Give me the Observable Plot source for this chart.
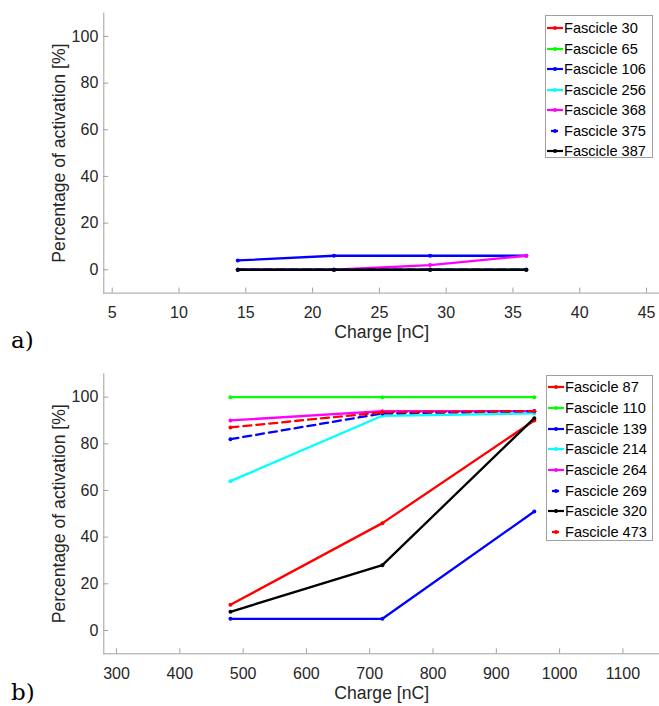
<!DOCTYPE html>
<html><head><meta charset="utf-8">
<script src="https://cdn.jsdelivr.net/npm/d3@7"></script>
<script src="https://cdn.jsdelivr.net/npm/@observablehq/plot@0.6"></script>
<style>
body{margin:0;background:#fff;}
#fig{position:relative;width:659px;height:706px;overflow:hidden;background:#fff;font-family:"Liberation Sans",Arial,Helvetica,sans-serif;}
.panel{position:absolute;left:0;}
.legend{position:absolute;border:1px solid #a0a0a0;background:#fff;font-size:14.6px;color:#000;box-sizing:border-box;}
.legend .row{display:flex;align-items:center;white-space:nowrap;}
.legend svg{flex:none;}
.tag{position:absolute;font-family:"DejaVu Serif","Liberation Serif",serif;font-size:23px;line-height:23px;color:#000;}
</style></head><body>
<div id="fig">
  <div id="pa" class="panel" style="top:0"></div>
  <div id="pb" class="panel" style="top:356px"></div>
  <div id="la" class="legend" style="left:545px;top:15px;width:108px;height:143px;padding-top:2px"></div>
  <div id="lb" class="legend" style="left:546px;top:375px;width:107px;height:166px;padding-top:1px"></div>
  <div class="tag" style="left:11px;top:329px">a)</div>
  <div class="tag" style="left:11px;top:681px">b)</div>
</div>
<script>
// ---- Panel a data ----
const chargeA = [14.4, 21.6, 28.8, 36];
const namesA = ["Fascicle 30", "Fascicle 65", "Fascicle 106", "Fascicle 256", "Fascicle 368", "Fascicle 375", "Fascicle 387"];
const fascicle30 = [0, 0, 0, 0];
const fascicle65 = [0, 0, 0, 0];
const fascicle106 = [4, 6, 6, 6];
const fascicle256 = [0, 0, 0, 0];
const fascicle368 = [0, 0, 2, 6];
const fascicle375 = [0, 0, 0, 0];
const fascicle387 = [0, 0, 0, 0];
const valuesA = [fascicle30, fascicle65, fascicle106, fascicle256, fascicle368, fascicle375, fascicle387];
const xTicksA = [5, 10, 15, 20, 25, 30, 35, 40, 45];
const xDomainA = [4.37, 45.97];

// ---- Panel b data ----
const chargeB = [480, 720, 960];
const namesB = ["Fascicle 87", "Fascicle 110", "Fascicle 139", "Fascicle 214", "Fascicle 264", "Fascicle 269", "Fascicle 320", "Fascicle 473"];
const fascicle87 = [11, 46, 90];
const fascicle110 = [100, 100, 100];
const fascicle139 = [5, 5, 51];
const fascicle214 = [64, 92, 93];
const fascicle264 = [90, 94, 94];
const fascicle269 = [82, 93, 94];
const fascicle320 = [8, 28, 91];
const fascicle473 = [87, 93.5, 94];
const valuesB = [fascicle87, fascicle110, fascicle139, fascicle214, fascicle264, fascicle269, fascicle320, fascicle473];
const xTicksB = [300, 400, 500, 600, 700, 800, 900, 1000, 1100];
const xDomainB = [279.9, 1157.8];

const yTicks = [0, 20, 40, 60, 80, 100];
const yDomain = [-10, 110];
const xLabel = "Charge [nC]";
const yLabel = "Percentage of activation [%]";

// ---- styles ----
const colorsA = ["#ff0000", "#00ff00", "#0000ff", "#00ffff", "#ff00ff", "#0000ff", "#000000"];
const dashedA = [false, false, false, false, false, true, false];
const colorsB = ["#ff0000", "#00ff00", "#0000ff", "#00ffff", "#ff00ff", "#0000ff", "#000000", "#ff0000"];
const dashedB = [false, false, false, false, false, true, false, true];

function rowsOf(names, xs, values) {
  const rows = [];
  names.forEach((n, i) => xs.forEach((x, j) => rows.push({name: n, x, y: values[i][j]})));
  return rows;
}

function makePanel({names, xs, values, colors, dashed, xDomain, xTicks, marginTop, marginBottom, labelDy}) {
  const rows = rowsOf(names, xs, values);
  const axisColor = "#a0a0a0";
  const textColor = "#262626";
  const marks = [
    Plot.frame({anchor: "bottom", stroke: axisColor}),
    Plot.frame({anchor: "left", stroke: axisColor}),
    Plot.axisX(xTicks, {tickSize: -5, tickPadding: 18.5, tickFormat: d => String(d), stroke: axisColor, fill: textColor, fontSize: 16, label: null}),
    Plot.axisY(yTicks, {tickSize: -5, tickPadding: 10.5, tickFormat: d => String(d), stroke: axisColor, fill: textColor, fontSize: 16, label: null}),
    Plot.text([xLabel], {text: d => d, frameAnchor: "bottom", textAnchor: "middle", lineAnchor: "middle", dy: labelDy, fontSize: 17.6, fill: textColor}),
    Plot.text([yLabel], {text: d => d, frameAnchor: "left", textAnchor: "middle", lineAnchor: "middle", rotate: -90, dx: -44, fontSize: 17.6, fill: textColor})
  ];
  names.forEach((n, i) => {
    const d = rows.filter(r => r.name === n);
    marks.push(Plot.line(d, {x: "x", y: "y", stroke: colors[i], strokeWidth: 2.3, strokeDasharray: dashed[i] ? "8,5" : null}));
    marks.push(Plot.dot(d, {x: "x", y: "y", r: 2, fill: colors[i], stroke: null}));
  });
  return Plot.plot({
    width: 659,
    height: 350,
    marginLeft: 103.3,
    marginRight: 0,
    marginTop,
    marginBottom,
    style: {fontFamily: "'Liberation Sans', Arial, Helvetica, sans-serif", fontSize: "16px", color: textColor, background: "transparent", overflow: "visible"},
    x: {domain: xDomain, axis: null},
    y: {domain: yDomain, axis: null},
    marks
  });
}

document.getElementById("pa").appendChild(makePanel({
  names: namesA, xs: chargeA, values: valuesA, colors: colorsA, dashed: dashedA,
  xDomain: xDomainA, xTicks: xTicksA, marginTop: 12.6, marginBottom: 57.4, labelDy: 39.5
}));
document.getElementById("pb").appendChild(makePanel({
  names: namesB, xs: chargeB, values: valuesB, colors: colorsB, dashed: dashedB,
  xDomain: xDomainB, xTicks: xTicksB, marginTop: 17.3, marginBottom: 52.7, labelDy: 39.5
}));

function makeLegend(el, names, colors, dashed, rowH) {
  names.forEach((n, i) => {
    const row = document.createElement("div");
    row.className = "row";
    row.style.height = rowH + "px";
    const ns = "http://www.w3.org/2000/svg";
    const svg = document.createElementNS(ns, "svg");
    svg.setAttribute("width", 18);
    svg.setAttribute("height", 8);
    const line = document.createElementNS(ns, "line");
    line.setAttribute("x1", dashed[i] ? 5 : 1);
    line.setAttribute("x2", dashed[i] ? 12 : 17);
    line.setAttribute("y1", 4);
    line.setAttribute("y2", 4);
    line.setAttribute("stroke", colors[i]);
    line.setAttribute("stroke-width", 2.2);
    svg.appendChild(line);
    const c = document.createElementNS(ns, "circle");
    c.setAttribute("cx", 9);
    c.setAttribute("cy", 4);
    c.setAttribute("r", 2);
    c.setAttribute("fill", colors[i]);
    svg.appendChild(c);
    row.appendChild(svg);
    const t = document.createElement("span");
    t.textContent = n;
    row.appendChild(t);
    el.appendChild(row);
  });
}
makeLegend(document.getElementById("la"), namesA, colorsA, dashedA, 20.5);
makeLegend(document.getElementById("lb"), namesB, colorsB, dashedB, 20.7);
</script>
</body></html>
